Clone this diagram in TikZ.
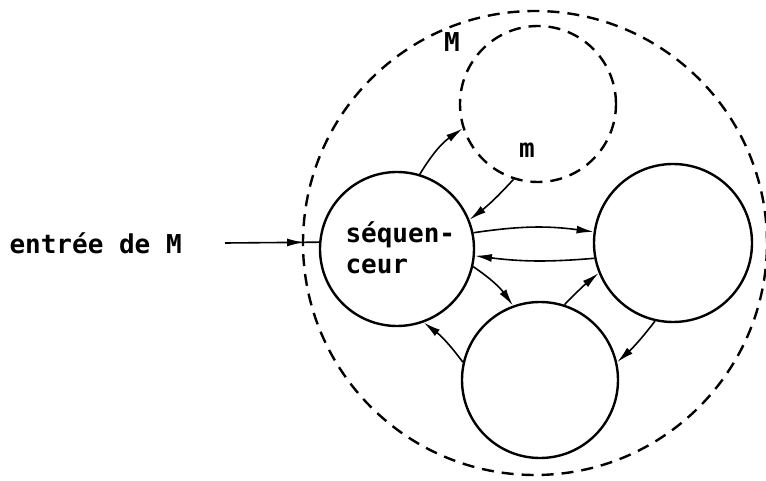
\documentclass[tikz,border=0pt]{standalone}
\usepackage{fontspec}
\setmonofont{DejaVu Sans Mono}
\usetikzlibrary{arrows.meta,decorations.markings}
\begin{document}
\begin{tikzpicture}[x=1pt,y=-1pt,
  box/.style={circle,draw,line width=2.4pt,inner sep=0pt},
  dbox/.style={circle,draw,line width=2.4pt,inner sep=0pt,dash pattern=on 12pt off 8pt},
  conn/.style={line width=1.6pt,-{Latex[length=17pt,width=8pt]}},
  txt/.style={font=\ttfamily\bfseries\fontsize{26}{31}\selectfont},
  midtip/.style={postaction={decorate},decoration={markings,mark=at position #1 with {\arrow{Latex[length=17pt,width=8pt]}}}}]
\useasboundingbox (0,0) rectangle (766,481);
\node[dbox,minimum size=464pt] (M) at (535,243) {};
\node[dbox,minimum size=156pt] (m) at (538,104) {};
\node[box,minimum size=154pt] (seq) at (397,249) {};
\node[box,minimum size=158pt] (R) at (673,243) {};
\node[box,minimum size=156pt] (B) at (540,380) {};
\node[txt,align=left,anchor=west] (seqt) at (342,248) {séquen-\\ceur};
\node[txt] (Mt) at (452,42) {M};
\node[txt] (mt) at (527,150) {m};
\node[txt,anchor=west] (in) at (6,243) {entrée de M};
\coordinate (ins) at (225,243);
\draw[line width=1.6pt,midtip=0.84] (ins) -- (seq.175);
\draw[conn] (seq.73) to[bend left=12] (m.198);
\draw[conn] (m.252) to[bend left=5] (seq.22);
\draw[conn] (seq.12) to[bend left=8] (R.172);
\draw[conn] (R.191) to[bend left=6] (seq.355);
\draw[conn] (seq.347) to[bend left=10] (B.110);
\draw[conn] (B.72) to[bend left=3] (R.202);
\draw[conn] (R.257) to[bend left=5] (B.13);
\draw[conn] (B.167) to[bend right=8] (seq.290);
\end{tikzpicture}
\end{document}
